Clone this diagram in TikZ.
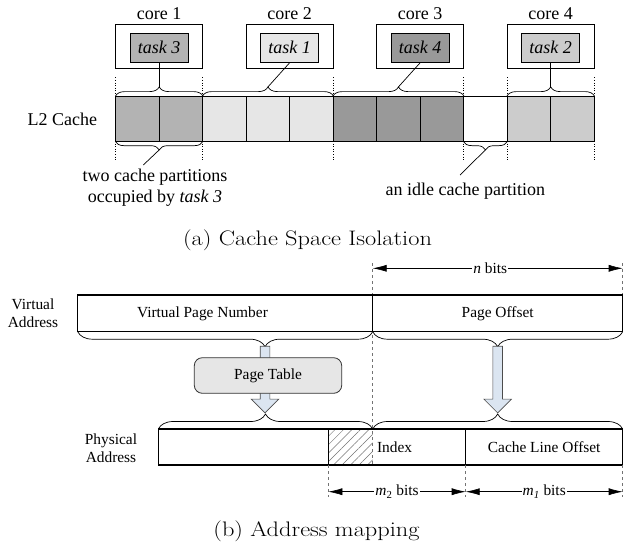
\documentclass[tikz,border=0pt]{standalone}
\usepackage{fontspec}
\newfontfamily\tnr{Liberation Serif}
\usetikzlibrary{arrows.meta, decorations.pathreplacing, shapes.arrows,
  patterns.meta, positioning}

\definecolor{tskA}{HTML}{B3B3B3}
\definecolor{tskB}{HTML}{E6E6E6}
\definecolor{tskC}{HTML}{999999}
\definecolor{tskD}{HTML}{CCCCCC}
\definecolor{arrblue}{RGB}{219,229,241}

\tikzset{
  lbl/.style={font=\tnr\fontsize{18}{21}\selectfont},
  lbls/.style={font=\tnr\fontsize{15.4}{18}\selectfont},
  capt/.style={font=\fontsize{21}{25}\selectfont},
  cell/.style={draw, line width=0.8pt, minimum width=43.5pt,
    minimum height=44.3pt, inner sep=0pt},
  corebox/.style={draw, line width=0.8pt, minimum width=87pt,
    minimum height=44.3pt, inner sep=0pt},
  taskbox/.style={draw, line width=0.8pt, minimum width=58.3pt,
    minimum height=29pt, inner sep=0pt,
    font=\tnr\itshape\fontsize{18}{21}\selectfont},
  braceup/.style={decorate, decoration={brace, amplitude=9.4pt}, line width=0.7pt},
  bracedn/.style={decorate, decoration={brace, mirror, amplitude=8.5pt}, line width=0.7pt},
  bigup/.style={decorate, decoration={brace, amplitude=15pt, aspect=#1}, line width=0.7pt},
  bigup/.default=0.5,
  bigdn/.style={decorate, decoration={brace, mirror, amplitude=15pt, aspect=#1}, line width=0.7pt},
  bigdn/.default=0.5,
  addrbox/.style={draw, line width=1.4pt, minimum height=36.7pt, inner sep=0pt, lbls},
  guide/.style={draw=black!55, dashed, line width=0.5pt},
  dimarr/.style={<->, line width=0.6pt},
  blockarr/.style={shape=single arrow, draw=black!70, fill=arrblue, line width=0.6pt,
    minimum height=66.6pt, minimum width=27pt, inner xsep=0pt, inner ysep=4.5pt,
    single arrow head extend=9pt, rotate=-90}
}

\begin{document}
\begin{tikzpicture}[x=1pt, y=-1pt, >={Latex[length=14pt,width=7pt]}]
  \useasboundingbox (0,0) rectangle (624,544);

  % (a) cache partitions
  \foreach \i/\col in {0/tskA, 1/tskA, 2/tskB, 3/tskB, 4/tskB, 5/tskC,
      6/tskC, 7/tskC, 8/white, 9/tskD, 10/tskD} {
    \node[cell, fill=\col] (c\i) at ({137.45+43.5*\i}, 118.85) {};
  };
  \node[lbl, left=18pt of c0, inner sep=0pt] (l2) {L2 Cache};

  \foreach \n/\i/\tk/\col in {1/0/3/tskA, 2/3/1/tskB, 3/6/4/tskC, 4/9/2/tskD} {
    \node[corebox] (core\n) at ({159.2+43.5*\i}, 46.15) {};
    \node[taskbox, fill=\col] (task\tk) at ({159.2+43.5*\i}, 47.8) {task \tk};
    \node[lbl, above=0pt of core\n, inner sep=3.5pt] (corelbl\n) {core \n};
  };

  \foreach \x in {115.7, 202.7, 333.2, 463.7, 507.2, 594.2} {
    \draw[dotted, line width=0.6pt] (\x,77.3) -- (\x,96.7);
    \draw[dotted, line width=0.6pt] (\x,141) -- (\x,160);
  };

  \draw[braceup] (c0.north west) -- (c1.north east);
  \draw[braceup] (c2.north west) -- (c4.north east);
  \draw[braceup] (c5.north west) -- (c7.north east);
  \draw[braceup] (c9.north west) -- (c10.north east);
  \coordinate (tip1) at (159.2,86.9);
  \coordinate (tip2) at (267.95,86.9);
  \coordinate (tip3) at (398.45,86.9);
  \coordinate (tip4) at (550.7,86.9);
  \draw[line width=0.7pt] (task3.south) -- (tip1);
  \draw[line width=0.7pt] (task1.south) -- (tip2);
  \draw[line width=0.7pt] (task4.south) -- (tip3);
  \draw[line width=0.7pt] (task2.south) -- (tip4);

  \draw[bracedn] (c0.south west) -- (c1.south east);
  \draw[bracedn] (c8.south west) -- (c8.south east);
  \coordinate (tip5) at (159.2,149.9);
  \coordinate (tip6) at (485.45,149.9);
  \node[lbl, align=center] (twopart) at (155,188) {two cache partitions\\occupied by \textit{task 3}};
  \node[lbl, anchor=base] (idlepart) at (465.3,195) {an idle cache partition};
  \coordinate (twoend) at (143.3,165);
  \coordinate (idleend) at (460,175);
  \draw[line width=0.7pt] (tip5) -- (twoend);
  \draw[line width=0.7pt] (tip6) -- (idleend);

  \node[capt, anchor=base] (capa) at (307.5,245) {\scalebox{1.16}[1]{(a) Cache Space Isolation}};

  % (b) address mapping
  \draw[guide] (372.7,263) -- (372.7,465);
  \draw[guide] (622.7,263) -- (622.7,295);
  \coordinate (nL) at (372.7,268.3);
  \coordinate (nR) at (622.7,268.3);
  \draw[dimarr] (nL) -- (nR) node[pos=0.47, lbls, fill=white, inner sep=1pt] (nbits) {\textit{n} bits};

  \node[lbls, align=center] (vaddr) at (33,313.3) {Virtual\\Address};
  \node[addrbox, minimum width=295pt] (vpn) at (225.2,313.35) {};
  \node[lbls] (vpntxt) at (202.5,313.35) {Virtual Page Number};
  \node[addrbox, minimum width=250pt] (poff) at (497.7,313.35) {Page Offset};

  \draw[bigdn=0.635] (77.7,331.7) -- (372.7,331.7);
  \draw[bigdn] (372.7,331.7) -- (622.7,331.7);

  \node[blockarr, anchor=tip] (arrL) at (265,413.3) {};
  \node[blockarr, anchor=tip] (arrR) at (497.7,413.3) {};
  \node[draw=black!80, fill=tskB, rounded corners=8pt, line width=0.8pt,
    minimum width=147.4pt, minimum height=35.6pt, lbls] (ptab) at (268,375.5) {Page Table};

  \draw[bigup] (158.3,429) -- (372.7,429);
  \draw[bigup] (372.7,429) -- (622.7,429);

  \node[lbls, align=center] (paddr) at (111,448) {Physical\\Address};
  \fill[pattern={Lines[angle=45, distance=6pt, line width=0.5pt]}, pattern color=black!55]
    (328.3,429) rectangle (372.7,465);
  \node[addrbox, minimum width=170pt, minimum height=36pt] (pfn) at (243.3,447) {};
  \node[addrbox, minimum width=137.4pt, minimum height=36pt] (idx) at (397,447) {};
  \node[lbls, anchor=west, inner sep=0pt] (idxtxt) at (376.8,447) {Index};
  \node[addrbox, minimum width=157pt, minimum height=36pt] (clo) at (544.2,447) {Cache Line Offset};

  \foreach \x in {328.3, 465.7, 622.7} {
    \draw[guide] (\x,465) -- (\x,497);
  };
  \coordinate (m2L) at (328.3,491.7);
  \coordinate (m2R) at (465.7,491.7);
  \coordinate (m1R) at (622.7,491.7);
  \draw[dimarr] (m2L) -- (m2R) node[midway, lbls, fill=white, inner sep=1pt] (m2bits) {\textit{m}\textsubscript{2} bits};
  \draw[dimarr] (m2R) -- (m1R) node[midway, lbls, fill=white, inner sep=1pt] (m1bits) {\textit{m}\textsubscript{\textit{1}} bits};

  \node[capt, anchor=base] (capb) at (316.5,536) {\scalebox{1.16}[1]{(b) Address mapping}};
\end{tikzpicture}
\end{document}
